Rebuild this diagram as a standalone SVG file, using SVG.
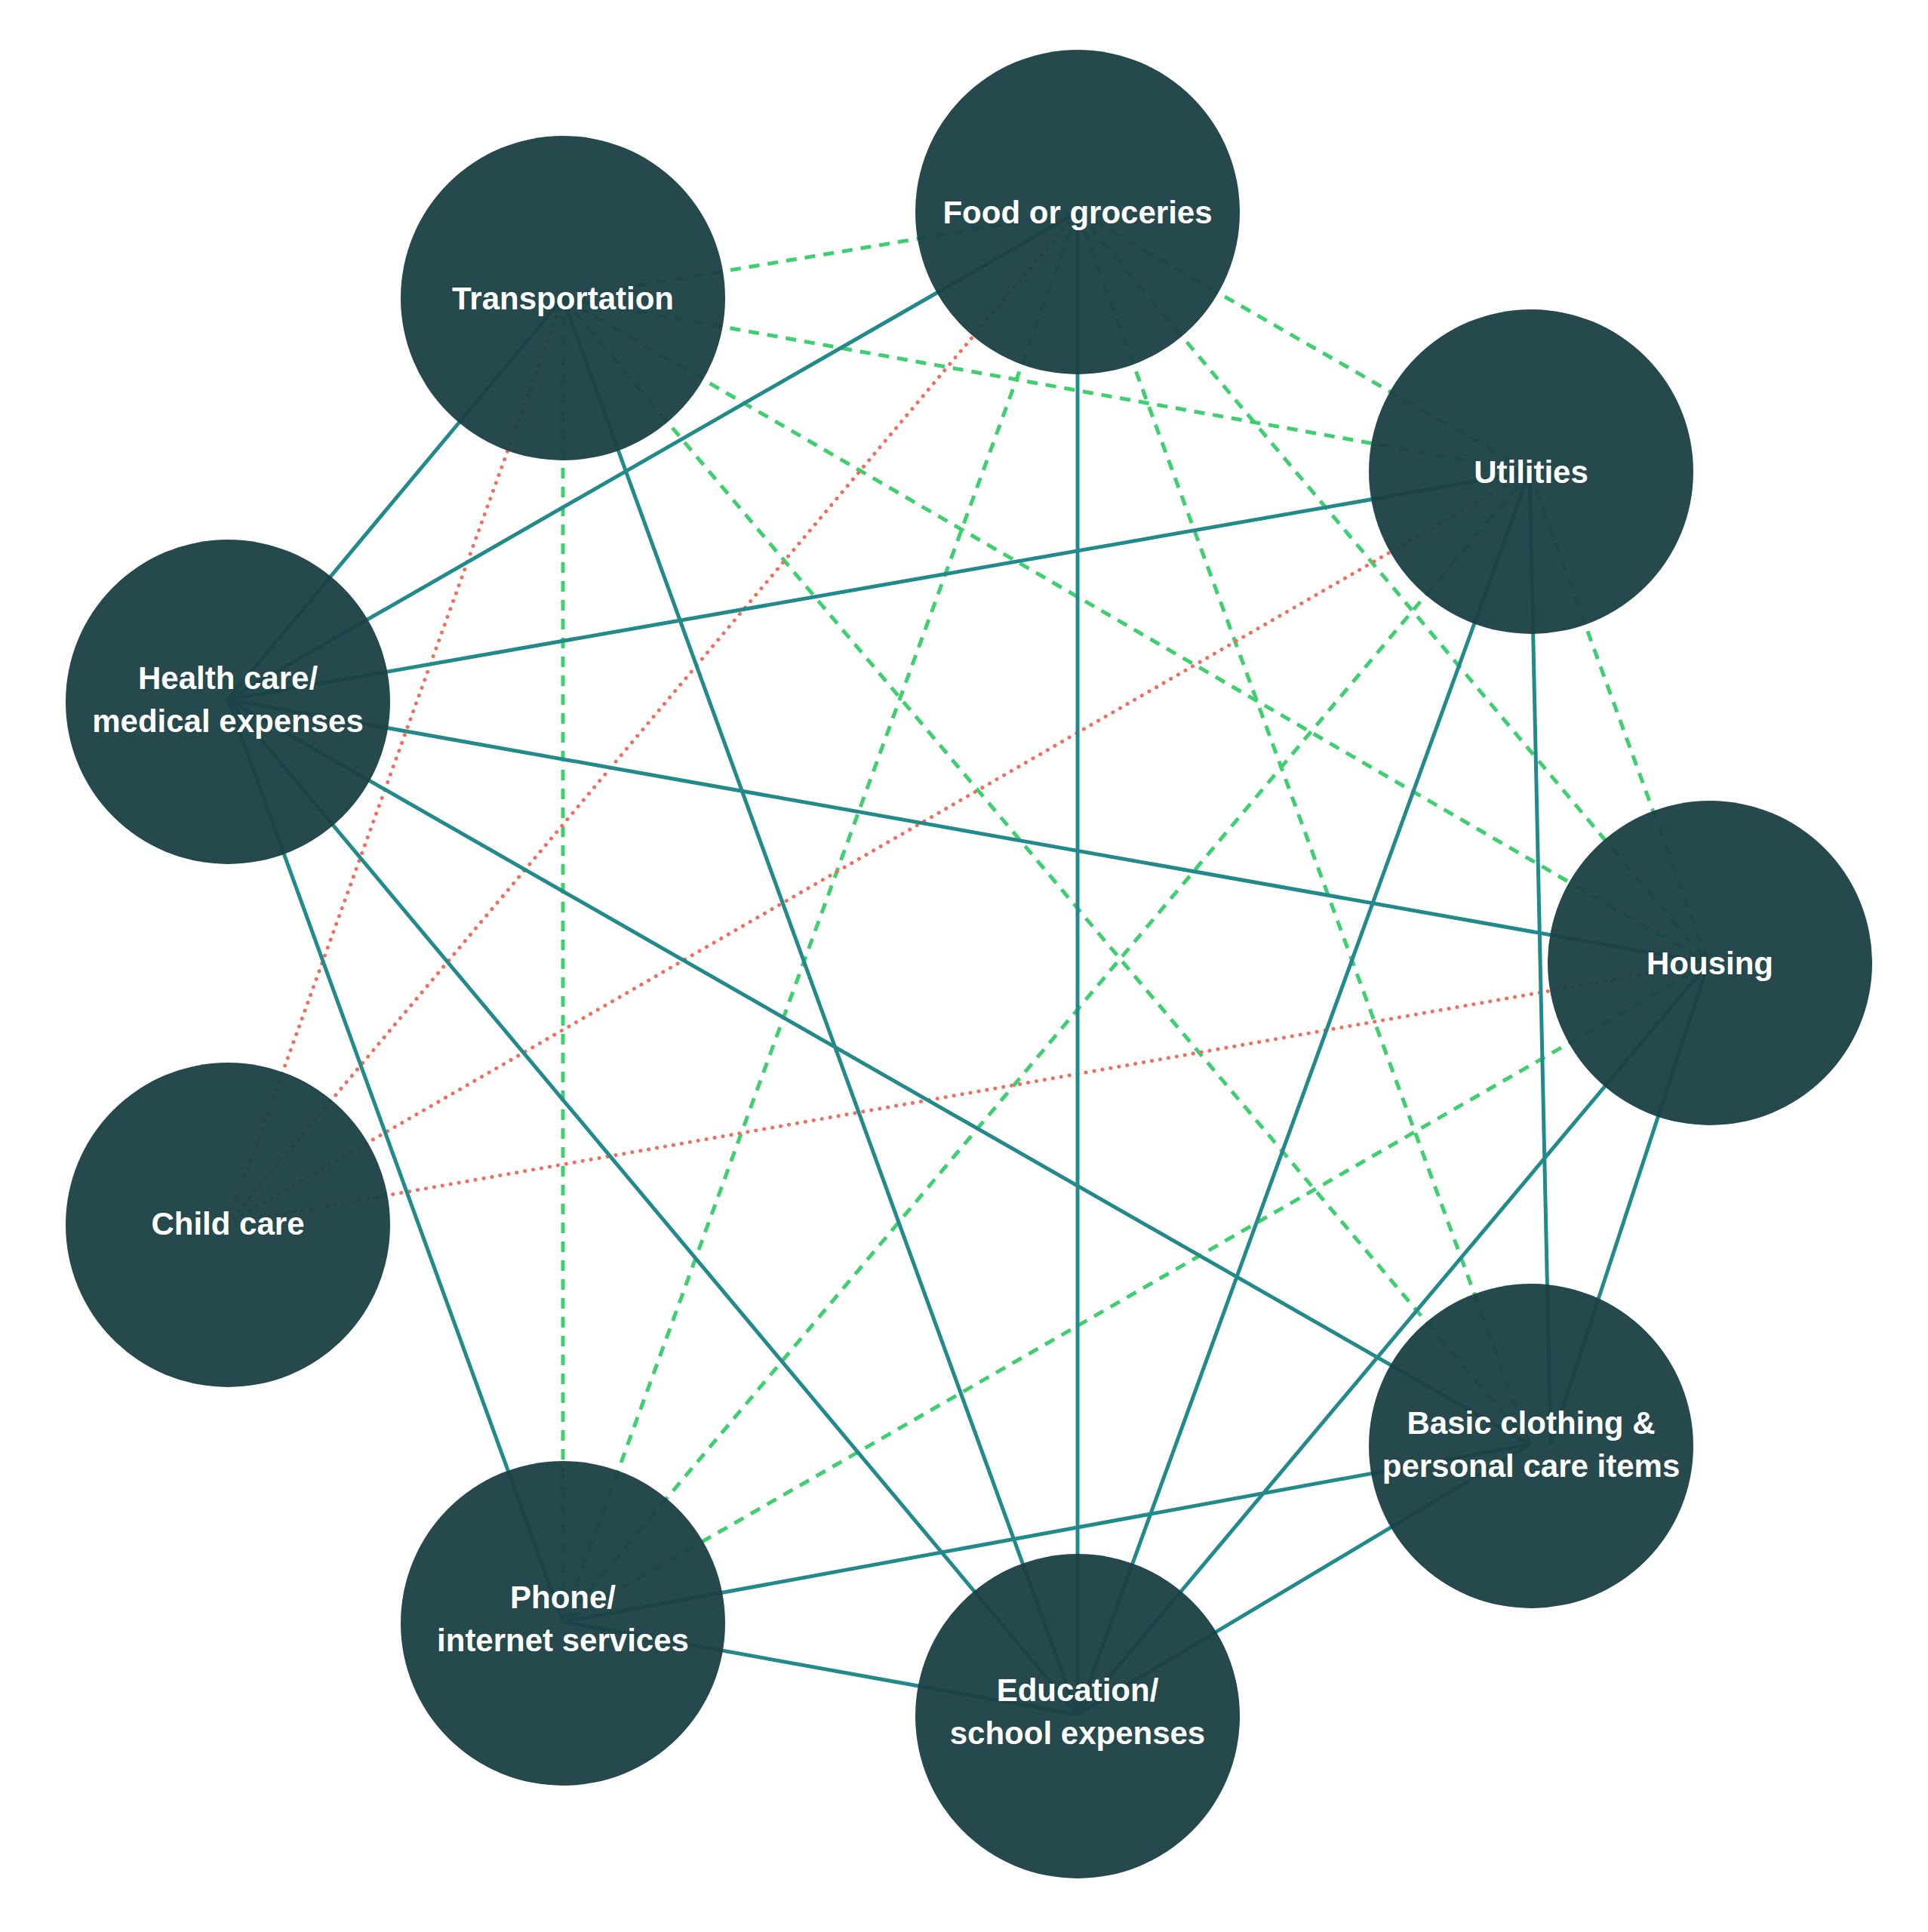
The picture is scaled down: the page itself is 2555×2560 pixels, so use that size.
<svg xmlns="http://www.w3.org/2000/svg" width="2555" height="2560" viewBox="0 0 2555 2560">
<style>
.s{stroke:#238a8c;stroke-width:5;fill:none}
.d{stroke:#3ecf6e;stroke-width:5;stroke-dasharray:14 11;fill:none}
.r{stroke:#f26d5b;stroke-width:5;stroke-dasharray:0.1 11;stroke-linecap:round;fill:none}
.n{fill:#1c4245;fill-opacity:0.96}
text{font-family:"Liberation Sans",Arial,sans-serif;font-weight:700;font-size:42px;fill:#fff;text-anchor:middle}
</style>
<rect width="2555" height="2560" fill="#fff"/>
<g id="connectors">
<line class="d" x1="746" y1="395" x2="1428" y2="281"/>
<line class="d" x1="746" y1="395" x2="2027" y2="625"/>
<line class="d" x1="746" y1="395" x2="2264" y2="1276"/>
<line class="d" x1="746" y1="395" x2="2027" y2="1914"/>
<line class="d" x1="746" y1="395" x2="746" y2="2149"/>
<line class="d" x1="1428" y1="281" x2="2027" y2="625"/>
<line class="d" x1="1428" y1="281" x2="2264" y2="1276"/>
<line class="d" x1="1428" y1="281" x2="2027" y2="1914"/>
<line class="d" x1="1428" y1="281" x2="746" y2="2149"/>
<line class="d" x1="2027" y1="625" x2="2264" y2="1276"/>
<line class="d" x1="2027" y1="625" x2="746" y2="2149"/>
<line class="d" x1="2264" y1="1276" x2="746" y2="2149"/>
<line class="r" x1="302" y1="1621" x2="746" y2="395"/>
<line class="r" x1="302" y1="1621" x2="1428" y2="281"/>
<line class="r" x1="302" y1="1621" x2="2027" y2="625"/>
<line class="r" x1="302" y1="1621" x2="2264" y2="1276"/>
<line class="s" x1="302" y1="927" x2="746" y2="395"/>
<line class="s" x1="302" y1="927" x2="1428" y2="281"/>
<line class="s" x1="302" y1="927" x2="2027" y2="625"/>
<line class="s" x1="302" y1="927" x2="2264" y2="1276"/>
<line class="s" x1="302" y1="927" x2="2027" y2="1914"/>
<line class="s" x1="302" y1="927" x2="1428" y2="2272"/>
<line class="s" x1="302" y1="927" x2="746" y2="2149"/>
<line class="s" x1="746" y1="395" x2="1428" y2="2272"/>
<line class="s" x1="1428" y1="281" x2="1428" y2="2272"/>
<line class="s" x1="2027" y1="625" x2="1428" y2="2272"/>
<line class="s" x1="2027" y1="625" x2="2055" y2="1914"/>
<line class="s" x1="2264" y1="1276" x2="1428" y2="2272"/>
<line class="s" x1="2264" y1="1276" x2="2055" y2="1914"/>
<line class="s" x1="2027" y1="1914" x2="746" y2="2149"/>
<line class="s" x1="2027" y1="1914" x2="1428" y2="2272"/>
<line class="s" x1="746" y1="2149" x2="1428" y2="2272"/>
</g>
<g id="food"><circle class="n" cx="1428" cy="281" r="215"/><text x="1428" y="296">Food or groceries</text></g>
<g id="transportation"><circle class="n" cx="746" cy="395" r="215"/><text x="746" y="410">Transportation</text></g>
<g id="utilities"><circle class="n" cx="2029" cy="625" r="215"/><text x="2029" y="640">Utilities</text></g>
<g id="health"><circle class="n" cx="302" cy="930" r="215"/><text x="302" y="913">Health care/</text><text x="302" y="970">medical expenses</text></g>
<g id="housing"><circle class="n" cx="2266" cy="1276" r="215"/><text x="2266" y="1291">Housing</text></g>
<g id="childcare"><circle class="n" cx="302" cy="1623" r="215"/><text x="302" y="1636">Child care</text></g>
<g id="basic"><circle class="n" cx="2029" cy="1916" r="215"/><text x="2029" y="1900">Basic clothing &amp;</text><text x="2029" y="1957">personal care items</text></g>
<g id="phone"><circle class="n" cx="746" cy="2151" r="215"/><text x="746" y="2131">Phone/</text><text x="746" y="2188">internet services</text></g>
<g id="education"><circle class="n" cx="1428" cy="2274" r="215"/><text x="1428" y="2254">Education/</text><text x="1428" y="2311">school expenses</text></g>
</svg>
